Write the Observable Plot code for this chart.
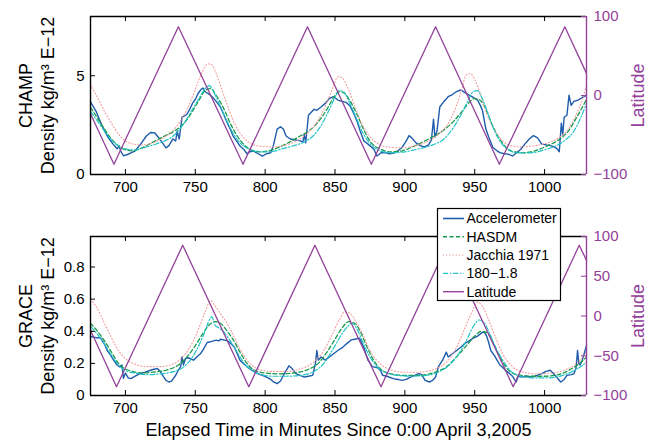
<!DOCTYPE html>
<html><head><meta charset="utf-8">
<script src="https://cdn.jsdelivr.net/npm/d3@7"></script>
<script src="https://cdn.jsdelivr.net/npm/@observablehq/plot@0.6"></script>
<style>
body{margin:0;background:#fff;}
#wrap{position:relative;width:663px;height:440px;font-family:"Liberation Sans",Arial,Helvetica,sans-serif;}
#wrap svg{position:absolute;left:0;overflow:visible;}
</style></head><body><div id="wrap"></div>
<script>
const xDomain = [675, 1030];
const xTicks = [700, 750, 800, 850, 900, 950, 1000];
const xTitle = "Elapsed Time in Minutes Since 0:00 April 3,2005";
const seriesNames = ["Accelerometer", "HASDM", "Jacchia 1971", "180\u22121.8", "Latitude"];
const colors = ["#1f5cab", "#1a9a4c", "#f29a9a", "#22c3c8", "#93419a"];

// CHAMP panel [minutes, density E-12 kg/m^3]
const champYDomain = [0, 8];
const champYTicks = [0, 5];
const champLatTicks = [-100, 0, 100];
const champAccel = [[675,3.68],[679,3.2],[683,2.5],[687,1.95],[691,1.55],[694,1.3],[695.5,1.45],[696.5,1.2],[698.6,0.95],[701,1.0],[704,1.1],[707,1.2],[711,1.55],[715,1.95],[718,2.13],[721,2.1],[724,1.85],[727,1.55],[729,1.35],[731,1.45],[734,1.8],[736,1.7],[737,2.2],[738.5,1.8],[740.5,2.9],[742,2.95],[744,3.05],[746,3.3],[748,3.6],[750,3.8],[752,4.1],[754,4.3],[755.5,4.38],[757,4.2],[759,4.1],[761,4.0],[763,3.87],[765.5,3.65],[768,3.42],[770,3.1],[773,2.6],[775,2.3],[777,1.96],[780,1.65],[782,1.44],[785,1.25],[787,1.05],[789,1.15],[791.6,1.19],[795,1.05],[798,0.93],[801,1.05],[804,1.1],[806,1.5],[808.6,2.3],[811,2.42],[813,2.3],[815,1.95],[818,1.8],[822,1.75],[825,1.7],[827,1.65],[828,2.05],[829,1.6],[831,3.0],[833,3.15],[835,3.3],[837,3.25],[840,3.42],[843,3.6],[846,3.85],[849,3.94],[852,3.77],[855,3.7],[858,3.65],[861,3.45],[864,3.0],[866,2.65],[868,2.2],[870.6,1.71],[873.6,1.54],[876,1.4],[878,1.25],[880,0.94],[883,1.1],[886,1.11],[889,1.05],[892,1.08],[895,1.2],[898,1.37],[901,1.7],[903,1.97],[905,1.85],[908,1.6],[911,1.46],[914,1.4],[917,1.5],[919,1.75],[920.5,2.8],[921.5,1.9],[923,2.2],[925,3.42],[928,3.7],[931,3.94],[934,4.05],[937,4.2],[940,4.28],[943,4.15],[946,4.02],[949,3.9],[952,3.77],[954,3.5],[955.5,3.25],[958,2.3],[960,1.9],[963,1.37],[966,1.2],[968,1.11],[971,1.05],[974,1.03],[977,0.94],[980,1.1],[983,1.28],[986,1.55],[989,1.8],[992,1.97],[995,1.85],[998,1.54],[1001,1.5],[1004,1.46],[1007,1.4],[1009,1.3],[1010.5,1.15],[1012,2.6],[1013,2.0],[1014,2.9],[1016,3.0],[1017.5,4.02],[1019,3.5],[1021,3.7],[1024,3.77],[1027,3.9],[1030,4.02]];
const champHasdm = [[675,3.4],[680,2.85],[685,2.3],[690,1.8],[695,1.45],[700,1.25],[705,1.2],[712,1.35],[720,1.65],[728,1.95],[735,2.2],[742,2.6],[748,3.2],[753,3.8],[757,4.25],[761,4.35],[765,4.0],[770,3.4],[775,2.6],[780,1.95],[785,1.5],[790,1.25],[797,1.15],[805,1.25],[815,1.55],[825,1.95],[833,2.3],[840,2.85],[845,3.4],[849,3.9],[853,4.2],[857,4.1],[861,3.7],[866,3.0],[871,2.2],[876,1.6],[882,1.3],[890,1.15],[898,1.2],[907,1.45],[917,1.8],[927,2.2],[935,2.7],[941,3.2],[946,3.65],[950,3.85],[954,3.75],[958,3.3],[962,2.6],[967,1.9],[972,1.4],[978,1.15],[985,1.1],[993,1.2],[1002,1.45],[1010,1.75],[1017,2.2],[1023,2.9],[1030,3.8]];
const champJacchia = [[675,4.55],[680,3.9],[685,3.2],[690,2.6],[695,2.05],[700,1.7],[705,1.55],[712,1.5],[720,1.62],[728,1.9],[735,2.3],[741,2.9],[746,3.6],[751,4.5],[755,5.2],[759,5.6],[762,5.55],[765,5.1],[769,4.3],[773,3.5],[778,2.6],[783,2.0],[788,1.65],[795,1.45],[805,1.4],[815,1.5],[825,1.8],[833,2.3],[840,3.0],[845,3.8],[849,4.5],[852,4.95],[855,4.9],[859,4.4],[864,3.5],[869,2.6],[874,2.0],[880,1.6],[887,1.4],[897,1.35],[907,1.45],[917,1.7],[925,2.1],[932,2.7],[937,3.5],[941,4.4],[944,5.05],[947,5.1],[950,4.8],[954,4.1],[958,3.2],[963,2.4],[968,1.85],[974,1.5],[982,1.4],[992,1.45],[1002,1.6],[1010,1.85],[1017,2.3],[1023,3.1],[1027,3.8],[1030,4.5]];
const champ180 = [[675,3.2],[680,2.7],[685,2.2],[690,1.75],[695,1.45],[700,1.3],[706,1.25],[713,1.35],[720,1.5],[728,1.7],[735,2.0],[742,2.6],[748,3.3],[753,3.9],[757,4.35],[760,4.5],[763,4.2],[767,3.6],[772,2.8],[777,2.1],[782,1.6],[788,1.3],[795,1.15],[803,1.15],[812,1.3],[820,1.45],[828,1.65],[835,2.0],[841,2.6],[846,3.3],[850,3.9],[853,4.25],[856,4.2],[860,3.7],[865,2.9],[870,2.1],[876,1.5],[882,1.2],[890,1.1],[900,1.15],[910,1.3],[920,1.5],[928,1.8],[934,2.3],[940,3.0],[945,3.7],[949,4.2],[952,4.25],[955,3.9],[959,3.2],[963,2.4],[968,1.7],[974,1.25],[980,1.1],[990,1.1],[1000,1.25],[1008,1.45],[1015,1.75],[1021,2.2],[1026,2.9],[1030,3.6]];
const champLatitude = [[675,-23],[691.8,-87],[737.9,87],[784.2,-87],[830.3,87],[876,-87],[922,87],[967.6,-87],[1014.5,87],[1030,28]];

// GRACE panel
const graceYDomain = [0, 0.99];
const graceYTicks = [0, 0.2, 0.4, 0.6, 0.8];
const graceLatTicks = [-100, -50, 0, 50, 100];
const graceAccel = [[675,0.367],[679,0.36],[682,0.36],[685,0.32],[687,0.28],[689.5,0.25],[691.5,0.22],[694,0.19],[696,0.178],[697.5,0.19],[698.6,0.107],[700,0.14],[702,0.11],[704,0.105],[707,0.12],[710,0.135],[714,0.145],[718,0.157],[721,0.165],[723,0.167],[725,0.15],[727.4,0.115],[729,0.095],[731,0.084],[733,0.09],[736,0.126],[738,0.16],[739.5,0.178],[740.5,0.24],[741.5,0.19],[743,0.23],[745,0.235],[748.7,0.22],[751,0.24],[753.7,0.26],[756,0.29],[758.5,0.33],[761,0.335],[763,0.34],[765,0.345],[767,0.34],[768,0.35],[771,0.345],[773,0.34],[776,0.32],[778,0.3],[780,0.26],[782,0.22],[785,0.195],[787,0.18],[790,0.16],[792,0.15],[795,0.135],[798,0.126],[801,0.115],[804,0.1],[806,0.085],[808.6,0.074],[811,0.09],[814,0.14],[817,0.185],[819,0.17],[822,0.136],[825,0.125],[828,0.115],[831,0.12],[834,0.125],[836,0.2],[837,0.28],[838,0.22],[840,0.24],[843,0.22],[846,0.24],[849,0.26],[852,0.28],[855.5,0.3],[858,0.32],[861.5,0.346],[864,0.35],[867.6,0.357],[869,0.33],[870.6,0.3],[872,0.26],[873.6,0.22],[876.7,0.18],[879,0.175],[881,0.17],[883,0.15],[884,0.126],[887,0.12],[891.8,0.105],[895,0.1],[898,0.094],[901,0.1],[904,0.115],[907,0.125],[910,0.136],[912,0.13],[914.5,0.094],[917.6,0.084],[920,0.095],[922,0.115],[924,0.18],[925.5,0.2],[927,0.22],[929.7,0.27],[931,0.24],[934,0.26],[937,0.28],[940,0.3],[943,0.325],[946,0.34],[949,0.357],[952,0.37],[955,0.39],[957,0.395],[958.5,0.37],[960,0.33],[961.5,0.28],[964,0.25],[966,0.22],[968,0.19],[970.6,0.17],[973,0.15],[975,0.136],[977,0.12],[979.7,0.084],[981,0.12],[984,0.115],[987,0.12],[990,0.115],[993,0.12],[996,0.13],[998,0.136],[1001,0.15],[1004,0.157],[1006,0.14],[1008.5,0.115],[1011.5,0.084],[1014,0.1],[1016,0.125],[1019,0.13],[1021,0.135],[1022.5,0.17],[1023.6,0.28],[1024.5,0.2],[1025.5,0.19],[1027,0.22],[1029,0.28],[1030,0.31]];
const graceHasdm = [[675,0.45],[680,0.4],[685,0.34],[690,0.27],[695,0.2],[700,0.165],[705,0.15],[712,0.14],[720,0.145],[730,0.16],[738,0.19],[745,0.25],[750,0.31],[755,0.38],[760,0.44],[764,0.46],[768,0.45],[772,0.41],[777,0.35],[782,0.27],[787,0.2],[792,0.16],[800,0.14],[810,0.135],[820,0.14],[830,0.16],[838,0.2],[845,0.28],[850,0.35],[855,0.42],[860,0.46],[864,0.45],[868,0.4],[872,0.32],[877,0.23],[882,0.17],[890,0.135],[900,0.125],[910,0.125],[920,0.14],[930,0.18],[938,0.25],[945,0.32],[950,0.37],[955,0.4],[959,0.39],[963,0.33],[968,0.24],[973,0.17],[980,0.13],[990,0.12],[1000,0.12],[1010,0.13],[1018,0.16],[1025,0.2],[1030,0.24]];
const graceJacchia = [[675,0.6],[680,0.54],[685,0.45],[690,0.36],[695,0.28],[700,0.23],[707,0.195],[715,0.18],[725,0.18],[735,0.2],[742,0.25],[748,0.33],[753,0.43],[757,0.52],[761,0.59],[764,0.56],[768,0.51],[772,0.46],[777,0.38],[782,0.29],[788,0.21],[795,0.165],[805,0.15],[815,0.15],[825,0.165],[835,0.21],[842,0.28],[848,0.38],[853,0.47],[857,0.52],[861,0.51],[865,0.46],[870,0.38],[875,0.28],[882,0.2],[890,0.16],[900,0.145],[910,0.145],[920,0.16],[930,0.21],[937,0.3],[943,0.42],[948,0.52],[952,0.58],[956,0.55],[960,0.47],[965,0.36],[970,0.26],[977,0.18],[985,0.145],[995,0.135],[1005,0.14],[1015,0.16],[1023,0.2],[1030,0.27]];
const grace180 = [[675,0.43],[680,0.38],[685,0.32],[690,0.25],[695,0.19],[700,0.155],[707,0.14],[715,0.13],[725,0.135],[735,0.15],[742,0.18],[748,0.24],[753,0.32],[757,0.4],[760,0.47],[762,0.49],[764,0.44],[767,0.42],[771,0.39],[775,0.34],[780,0.27],[785,0.2],[790,0.16],[797,0.13],[805,0.12],[815,0.12],[825,0.125],[835,0.15],[842,0.2],[848,0.28],[854,0.37],[859,0.43],[862,0.45],[866,0.41],[870,0.33],[875,0.24],[880,0.18],[887,0.14],[895,0.125],[905,0.12],[915,0.125],[925,0.15],[933,0.2],[940,0.28],[945,0.36],[949,0.43],[953,0.47],[957,0.45],[961,0.38],[965,0.3],[970,0.22],[976,0.15],[983,0.12],[993,0.11],[1003,0.11],[1013,0.125],[1020,0.15],[1026,0.18],[1030,0.21]];
const graceLatitude = [[675,-18],[693.6,-89],[741,89],[788.3,-89],[835.6,89],[882.9,-89],[930.2,89],[977.5,-89],[1024.8,89],[1030,70]];

const W = 663, ML = 90, MR = 77;
const FONT = '"Liberation Sans", Arial, Helvetica, sans-serif';
const fmtInt = d3.format("d");

function panel(cfg) {
  const {series, lat, yDomain, yTicks, latTicks, name, height, mt, mb, title} = cfg;
  const iw = W - ML - MR, ih = height - mt - mb;
  const lat2y = d3.scaleLinear([-100, 100], yDomain);
  const styles = [
    {stroke: colors[0], strokeWidth: 1.4, curve: "linear"},
    {stroke: colors[1], strokeWidth: 1.3, strokeDasharray: "4,2.5", curve: "monotone-x"},
    {stroke: colors[2], strokeWidth: 1.1, strokeDasharray: "1,2.2", curve: "monotone-x"},
    {stroke: colors[3], strokeWidth: 1.2, strokeDasharray: "5,2,1.2,2", curve: "monotone-x"}
  ];
  const marks = series.map((s, i) => Plot.line(s, {x: d => d[0], y: d => d[1], ...styles[i]}));
  marks.push(Plot.line(lat, {x: d => d[0], y: d => lat2y(d[1]), stroke: colors[4], strokeWidth: 1.3}));
  marks.push(
    Plot.ruleY([yDomain[0], yDomain[1]], {stroke: "black", strokeWidth: 1.4}),
    Plot.ruleX([xDomain[0]], {stroke: "black", strokeWidth: 1.4}),
    Plot.ruleX([xDomain[1]], {stroke: colors[4], strokeWidth: 1.4}),
    Plot.tickX(xTicks, {x: d => d, insetTop: ih - 5, stroke: "black"}),
    Plot.tickX(xTicks, {x: d => d, insetBottom: ih - 5, stroke: "black"}),
    Plot.tickY(yTicks, {y: d => d, insetRight: iw - 5, stroke: "black"}),
    Plot.tickY(latTicks.map(v => lat2y(v)), {y: d => d, insetLeft: iw - 5, stroke: colors[4]}),
    Plot.axisX({ticks: xTicks, tickSize: 0, tickPadding: 7, fontSize: 15, label: null, tickFormat: d => String(d)}),
    Plot.axisY({ticks: yTicks, tickSize: 0, tickPadding: 6, fontSize: 15, label: null, tickFormat: d => String(d)}),
    Plot.axisY({anchor: "right", ticks: latTicks.map(v => lat2y(v)), tickSize: 0, tickPadding: 7, fontSize: 15, label: null, color: colors[4], tickFormat: d => fmtInt(Math.round(lat2y.invert(d)))}),
    Plot.text([name], {frameAnchor: "left", rotate: -90, lineAnchor: "bottom", textAnchor: "middle", dx: -59, fontSize: 18}),
    Plot.text(["Density kg/m\u00b3 E\u221212"], {frameAnchor: "left", rotate: -90, lineAnchor: "bottom", textAnchor: "middle", dx: -37, fontSize: 18}),
    Plot.text(["Latitude"], {frameAnchor: "right", rotate: -90, lineAnchor: "bottom", textAnchor: "middle", dx: 57, fontSize: 18, fill: colors[4]})
  );
  if (title) marks.push(Plot.text([title], {frameAnchor: "bottom", lineAnchor: "bottom", dy: 40, fontSize: 18}));
  return Plot.plot({
    width: W, height, marginLeft: ML, marginRight: MR, marginTop: mt, marginBottom: mb,
    x: {domain: xDomain}, y: {domain: yDomain},
    style: {fontFamily: FONT, fontSize: "15px", overflow: "visible", background: "transparent", color: "black"},
    marks
  });
}

const wrap = document.getElementById("wrap");
const top1 = panel({series: [champAccel, champHasdm, champJacchia, champ180], lat: champLatitude,
  yDomain: champYDomain, yTicks: champYTicks, latTicks: champLatTicks, name: "CHAMP", height: 200, mt: 16, mb: 26});
top1.style.top = "0px";
wrap.appendChild(top1);
const bot = panel({series: [graceAccel, graceHasdm, graceJacchia, grace180], lat: graceLatitude,
  yDomain: graceYDomain, yTicks: graceYTicks, latTicks: graceLatTicks, name: "GRACE", height: 240, mt: 36, mb: 45, title: xTitle});
bot.style.top = "200px";
wrap.appendChild(bot);

// legend
const lg = d3.select(wrap).append("svg").attr("width", 124).attr("height", 93)
  .style("left", "436.5px").style("top", "207.5px").style("position", "absolute");
lg.append("rect").attr("x", 0.5).attr("y", 0.5).attr("width", 123).attr("height", 92).attr("fill", "white").attr("stroke", "black").attr("stroke-width", 1.2);
const dashes = [null, "4,2.5", "1,2.2", "5,2,1.2,2", null];
const widths = [1.6, 1.4, 1.2, 1.3, 1.4];
seriesNames.forEach((n, i) => {
  const y = 10.5 + i * 18.3;
  lg.append("line").attr("x1", 6).attr("x2", 27).attr("y1", y).attr("y2", y)
    .attr("stroke", colors[i]).attr("stroke-width", widths[i]).attr("stroke-dasharray", dashes[i]);
  lg.append("text").attr("x", 29.5).attr("y", y).attr("dy", "0.35em").attr("font-size", 14)
    .attr("font-family", FONT).text(n);
});
</script></body></html>
